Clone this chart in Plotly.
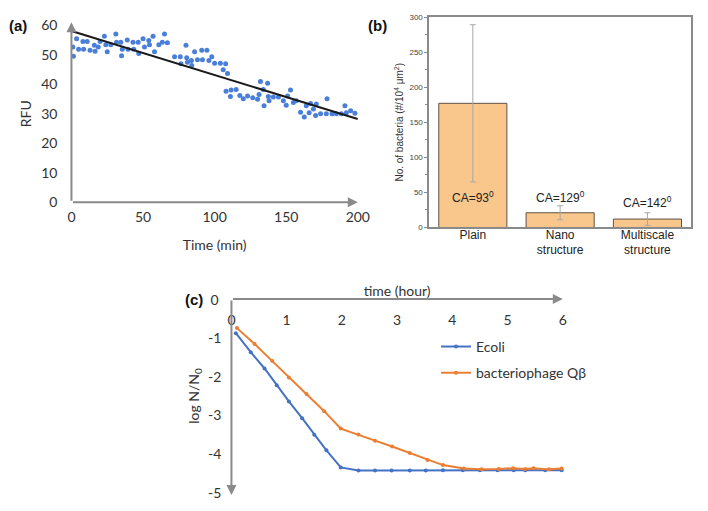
import plotly.graph_objects as go

# ---------------- (a) RFU vs time ----------------
time_min = [1, 1.4, 3.6, 5, 8, 8.5, 11, 13, 16, 16.5, 18.7, 20, 23, 24, 25, 27.5, 31, 31.5,
            34.5, 35, 35.5, 39, 39.5, 43, 43.5, 46.6, 47, 50, 51, 54, 54.5, 57, 58, 61, 63.5,
            65, 67, 72, 76, 76.5, 80, 80.5, 81, 83.8, 84, 86, 88, 91, 91.5, 94.6, 96, 98, 100,
            104, 106, 107.7, 109, 108, 111, 111.5, 115, 117.6, 120, 123, 126.6, 130, 131, 132,
            134, 134.5, 137, 137.5, 138, 141, 144.6, 148, 150, 151, 153, 155, 157, 160, 162.6,
            164, 166, 167, 169, 170.5, 171, 174, 178, 178.5, 182, 185, 188.5, 191, 192, 195, 198]
rfu = [52.6, 49.5, 55.4, 51.8, 54.5, 51.8, 54.5, 51.5, 53.2, 51.2, 52.6, 54.5, 56.2, 53.4, 51,
       53.4, 57, 54.2, 54.2, 49.6, 51.8, 55, 51.8, 54.2, 51.8, 54.2, 50.4, 55.4, 52.6, 54.8,
       53.4, 56.2, 51, 53.4, 54.2, 57, 54, 49.3, 49.3, 46.9, 53.2, 49, 47.4, 48, 46.3, 51, 48.3,
       51.5, 48.3, 51.5, 48, 49.3, 47.1, 47.1, 44.9, 46.9, 43.6, 37.6, 35.8, 38, 38.2, 36.2,
       35.1, 36, 35.4, 34.9, 36.5, 40.9, 38.2, 32.7, 40.3, 35.8, 34.4, 35.7, 35.7, 34.4, 32.9,
       36, 38, 33.8, 34.4, 30.5, 28.9, 32.7, 30.3, 33.5, 31.6, 29.4, 33.3, 30, 30, 35.1, 30,
       30, 30, 32.7, 30.3, 31, 30.2]
trend_time = [0, 200]
trend_rfu = [58.0, 28.2]
a_xticks = [0, 50, 100, 150, 200]
a_yticks = [0, 10, 20, 30, 40, 50, 60]

# ---------------- (b) bacteria counts ----------------
surfaces = ["Plain", "Nano<br>structure", "Multiscale<br>structure"]
bacteria = [177, 21, 12]
bacteria_err = [112, 10, 9]
ca_labels = ["CA=93<sup>0</sup>", "CA=129<sup>0</sup>", "CA=142<sup>0</sup>"]
ca_label_y = [44, 43, 37]

# ---------------- (c) log reduction ----------------
hours_ecoli = [0.08, 0.35, 0.6, 0.82, 1.04, 1.28, 1.5, 1.72, 1.98, 2.3, 2.6, 2.9, 3.23,
               3.52, 3.83, 4.19, 4.5, 4.82, 5.11, 5.32, 5.68, 5.98]
log_ecoli = [-0.88, -1.37, -1.79, -2.22, -2.64, -3.07, -3.5, -3.9, -4.34, -4.42, -4.42,
             -4.42, -4.42, -4.42, -4.41, -4.41, -4.41, -4.41, -4.41, -4.41, -4.41, -4.41]
hours_phage = [0.1, 0.42, 0.74, 1.04, 1.36, 1.68, 1.98, 2.3, 2.6, 2.91, 3.23, 3.55, 3.83,
               4.21, 4.53, 4.84, 5.1, 5.32, 5.47, 5.75, 5.98]
log_phage = [-0.75, -1.16, -1.6, -2.02, -2.45, -2.89, -3.34, -3.49, -3.65, -3.8, -3.97,
             -4.15, -4.28, -4.37, -4.39, -4.38, -4.36, -4.38, -4.36, -4.39, -4.37]
c_xticks = [0, 1, 2, 3, 4, 5, 6]
c_yticks = [-1, -2, -3, -4, -5]
c_ytext = ["-1", "-2", "-3", "-4", "-5"]
c_yorigin_label = "0"

W, H = 708, 511
AX = "#8a8a8a"
TXT = "#333333"
LATO = "Lato"
ARIAL = "Liberation Sans"

# panel (c) geometry: x = 0 at 232.7 px, 56.5 px per hour; y = 0 at 300 px, 40.14 px per unit
C_PAD = 0.35
C_X0, C_PPH = 232.7, 56.5
C_YPAD = 0.12
C_Y0, C_PPU = 300.0, 40.14

fig = go.Figure()

fig.add_trace(go.Scatter(x=time_min, y=rfu, mode="markers", xaxis="x", yaxis="y",
                         marker=dict(color="#4a7fd9", size=5), showlegend=False))
fig.add_trace(go.Scatter(x=trend_time, y=trend_rfu, mode="lines", xaxis="x", yaxis="y",
                         line=dict(color="#1a1a1a", width=2), showlegend=False))

fig.add_trace(go.Bar(x=surfaces, y=bacteria, xaxis="x2", yaxis="y2", width=0.78,
                     marker=dict(color="#f9c78c", line=dict(color="#5e5248", width=1)),
                     error_y=dict(type="data", array=bacteria_err, color="#a8a8a8",
                                  thickness=1, width=3),
                     showlegend=False))

fig.add_trace(go.Scatter(x=hours_ecoli, y=log_ecoli, mode="lines+markers", name="Ecoli",
                         xaxis="x3", yaxis="y3", legendgroup="ecoli",
                         line=dict(color="#4472c4", width=2), marker=dict(size=4)))
fig.add_trace(go.Scatter(x=hours_phage, y=log_phage, mode="lines+markers",
                         name="bacteriophage Qβ", xaxis="x3", yaxis="y3", legendgroup="phage",
                         line=dict(color="#ed7d31", width=2), marker=dict(size=4)))

annotations = []


def arrow(xr, yr, x, y, ax, ay):
    return dict(xref=xr, yref=yr, axref=xr, ayref=yr, x=x, y=y, ax=ax, ay=ay,
                showarrow=True, arrowhead=2, arrowsize=1, arrowwidth=2,
                arrowcolor=AX, standoff=0, startstandoff=0, text="")


annotations.append(arrow("x", "y", 200, 0, 0, 0))
annotations.append(arrow("x", "y", 0, 61, 0, 0))
annotations.append(arrow("x3", "y3", 6, 0, 0, 0))
annotations.append(arrow("x3", "y3", 0, -5.05, 0, 0))

for s, lab, yy in zip(surfaces, ca_labels, ca_label_y):
    annotations.append(dict(xref="x2", yref="y2", x=s, y=yy, text=lab, showarrow=False,
                            font=dict(family=ARIAL, size=12, color="#222")))

for txt, px, py in [("(a)", 14, 17), ("(b)", 382, 17)]:
    annotations.append(dict(xref="paper", yref="paper", x=px / W, y=1 - py / H,
                            xanchor="center", yanchor="middle",
                            text=f"<b>{txt}</b>", showarrow=False,
                            font=dict(family=ARIAL, size=15, color="#111")))

# panel label (c) followed by the origin label "0" of the (c) y axis
c_label_text = ("<b>(c)</b><span style='font-family:Lato;font-size:14px;color:#333333'>"
                "\u00a0\u00a0" + c_yorigin_label + "</span>")
annotations.append(dict(xref="paper", yref="paper", x=183 / W, y=1 - 301 / H,
                        xanchor="left", yanchor="middle", text=c_label_text, showarrow=False,
                        font=dict(family=ARIAL, size=15, color="#111")))

fig.update_layout(
    width=W, height=H, margin=dict(l=0, r=0, t=0, b=0),
    paper_bgcolor="white", plot_bgcolor="white",
    annotations=annotations,
    xaxis=dict(domain=[69 / W, 362 / W], range=[0, 200], anchor="y",
               showgrid=False, zeroline=False, showline=False, tickvals=a_xticks,
               tickfont=dict(family=LATO, size=14, color=TXT), ticklabelstandoff=5,
               title=dict(text="Time (min)", font=dict(family=LATO, size=14, color=TXT),
                          standoff=15)),
    yaxis=dict(domain=[1 - 200 / H, 1 - 16.7 / H], range=[0, 60], anchor="x",
               showgrid=False, zeroline=False, showline=False, tickvals=a_yticks,
               tickfont=dict(family=LATO, size=14, color=TXT), ticklabelstandoff=13,
               title=dict(text="RFU", font=dict(family=LATO, size=14, color=TXT), standoff=6)),
    xaxis2=dict(domain=[435 / W, 703 / W], anchor="y2", showgrid=False, zeroline=False,
                showline=True, mirror=True, linecolor=AX, linewidth=1.5,
                ticklabelstandoff=-5,
                tickfont=dict(family=ARIAL, size=12, color="#222")),
    yaxis2=dict(domain=[1 - 226 / H, 1 - 8.3 / H], range=[0, 300], anchor="x2",
                showgrid=False, zeroline=False, showline=True, mirror=True,
                linecolor=AX, linewidth=1.5, ticks="outside", ticklen=3, tickcolor=AX,
                dtick=50, minor=dict(dtick=25, ticks="outside", ticklen=2, tickcolor=AX),
                tickfont=dict(family=ARIAL, size=8, color="#444"),
                title=dict(text="No. of bacteria (#/10<sup>4</sup> μm<sup>2</sup>)",
                           font=dict(family=ARIAL, size=10, color="#333"), standoff=4)),
    xaxis3=dict(domain=[(C_X0 - C_PAD * C_PPH) / W, (C_X0 + (6 + C_PAD) * C_PPH) / W],
                range=[-C_PAD, 6 + C_PAD], anchor="free", position=1 - C_Y0 / H, side="top",
                showgrid=False, zeroline=False, showline=False, tickvals=c_xticks,
                ticklabelposition="inside", ticklabelstandoff=12,
                tickfont=dict(family=LATO, size=14, color=TXT),
                title=dict(text="time (hour)", font=dict(family=LATO, size=14, color=TXT),
                           standoff=9)),
    yaxis3=dict(domain=[1 - (C_Y0 + (5 + C_YPAD) * C_PPU) / H, 1 - (C_Y0 - C_YPAD * C_PPU) / H],
                range=[-5 - C_YPAD, C_YPAD], anchor="free", position=C_X0 / W,
                showgrid=False, zeroline=False, showline=False,
                tickvals=c_yticks, ticktext=c_ytext,
                tickfont=dict(family=LATO, size=14, color=TXT), ticklabelstandoff=10,
                title=dict(text="log N/N<sub>0</sub>", font=dict(family=LATO, size=14, color=TXT),
                           standoff=4)),
    legend=dict(x=442 / W, y=1 - 333 / H, xanchor="left", yanchor="top",
                bgcolor="rgba(0,0,0,0)", font=dict(family=LATO, size=14, color=TXT),
                itemwidth=30, tracegroupgap=5),
)

fig.write_html("out.html", config={"displayModeBar": False},
               post_script="document.body.style.margin='0';document.body.style.overflow='hidden';")
